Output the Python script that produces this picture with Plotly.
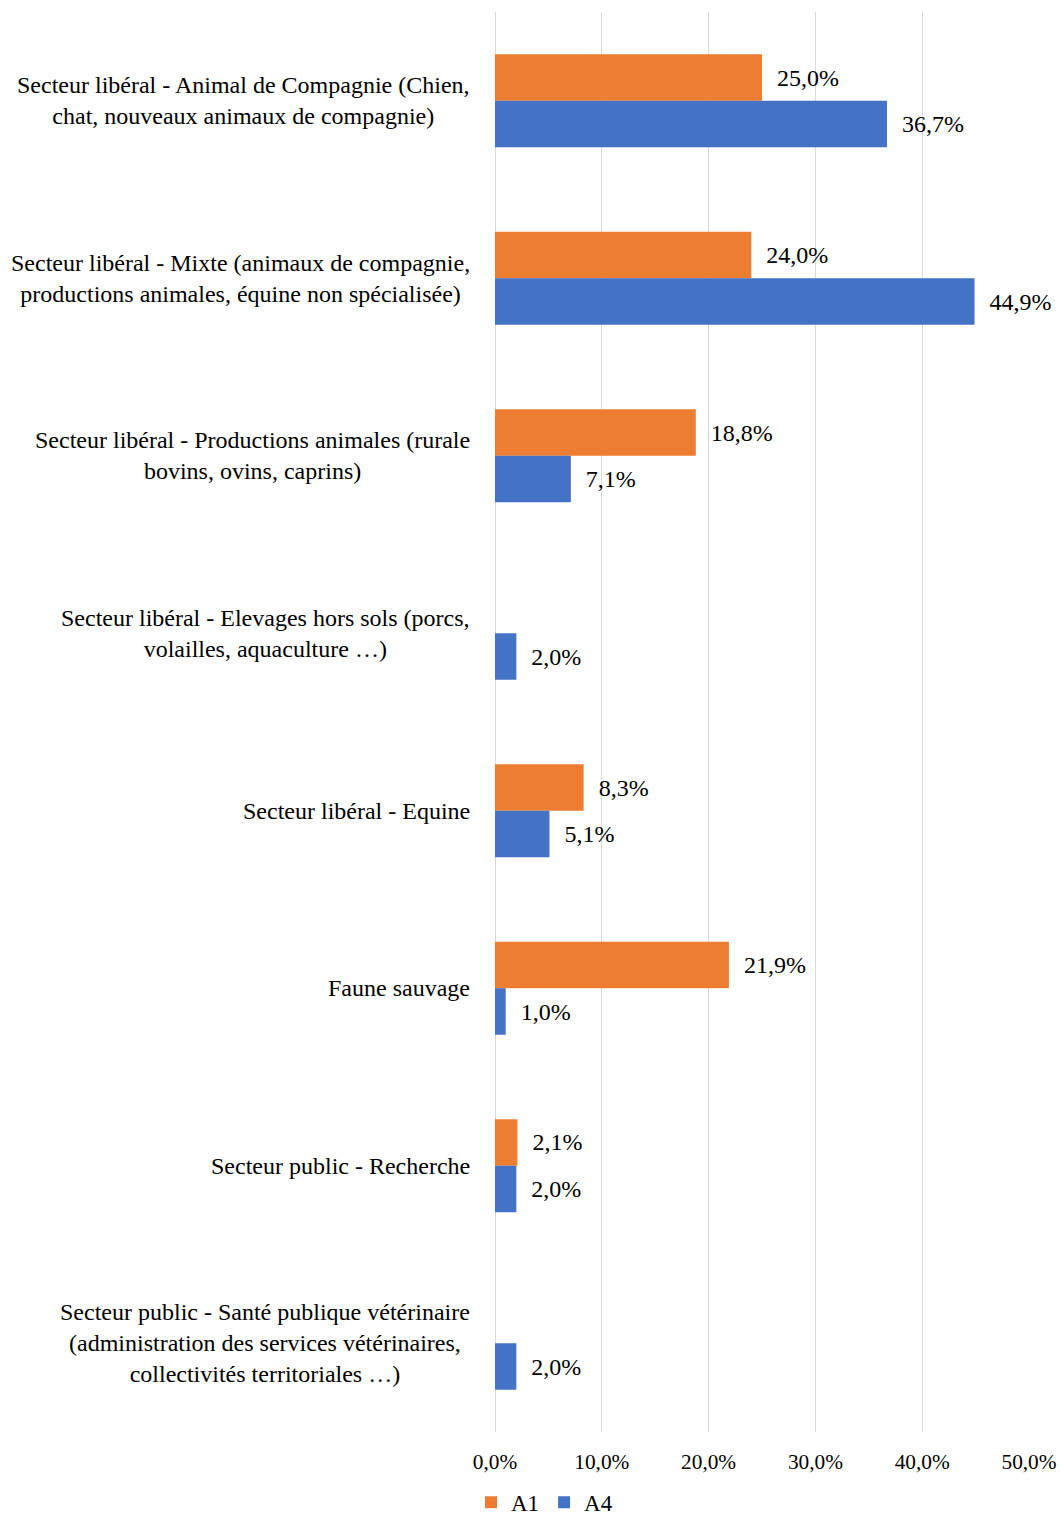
import plotly.graph_objects as go

# Survey categories (top to bottom) and shares per cohort, in percent
categories = [
    "Secteur libéral - Animal de Compagnie (Chien,<br>chat, nouveaux animaux de compagnie)",
    "Secteur libéral - Mixte (animaux de compagnie,<br>productions animales, équine non spécialisée)",
    "Secteur libéral - Productions animales (rurale<br>bovins, ovins, caprins)",
    "Secteur libéral - Elevages hors sols (porcs,<br>volailles, aquaculture …)",
    "Secteur libéral - Equine",
    "Faune sauvage",
    "Secteur public - Recherche",
    "Secteur public - Santé publique vétérinaire<br>(administration des services vétérinaires,<br>collectivités territoriales …)",
]
a1_values = [25.0, 24.0, 18.8, None, 8.3, 21.9, 2.1, None]
a4_values = [36.7, 44.9, 7.1, 2.0, 5.1, 1.0, 2.0, 2.0]
x_ticks = [0, 10, 20, 30, 40, 50]
x_tick_text = [f"{v:.1f}%".replace(".", ",") for v in x_ticks]

FONT = "Liberation Serif, Times New Roman, serif"
ORANGE = "#ED7D31"
BLUE = "#4472C4"
GRID = "#D9D9D9"

fig = go.Figure()
for name, vals, color in [("A1", a1_values, ORANGE), ("A4", a4_values, BLUE)]:
    fig.add_trace(go.Bar(
        name=name,
        x=vals,
        y=categories,
        orientation="h",
        marker=dict(color=color, line=dict(width=0)),
        texttemplate="\u00a0\u00a0%{x:.1f}%",
        textposition="outside",
        textfont=dict(family=FONT, size=24, color="black"),
        constraintext="none",
        cliponaxis=False,
    ))

# Category labels, centred line by line, to the left of the plot area
for cat in categories:
    fig.add_annotation(
        xref="paper", yref="y", x=0, y=cat,
        xanchor="right", yanchor="middle", xshift=-23,
        text=cat, align="center", showarrow=False,
        font=dict(family=FONT, size=24, color="black"),
    )

fig.update_layout(
    width=1063, height=1519,
    margin=dict(l=495, r=34, t=12, b=87, autoexpand=False),
    paper_bgcolor="white", plot_bgcolor="white",
    barmode="group", bargap=0.476, bargroupgap=0,
    separators=", ",
    font=dict(family=FONT, size=24, color="black"),
    showlegend=True,
    legend=dict(
        orientation="h", xref="paper", yref="paper",
        x=-0.045, y=-0.0495, xanchor="left", yanchor="middle",
        font=dict(family=FONT, size=23, color="black"),
        itemwidth=30, traceorder="normal",
    ),
    xaxis=dict(
        range=[0, 50], tickvals=x_ticks, ticktext=x_tick_text,
        showgrid=True, gridcolor=GRID, gridwidth=1,
        zeroline=True, zerolinecolor=GRID, zerolinewidth=1,
        showline=False, ticks="", ticklabelstandoff=15,
        tickfont=dict(family=FONT, size=21.3, color="black"),
    ),
    yaxis=dict(
        autorange="reversed", showticklabels=False, showgrid=False,
        zeroline=False, showline=False, ticks="",
    ),
)

fig.write_html("out.html")
